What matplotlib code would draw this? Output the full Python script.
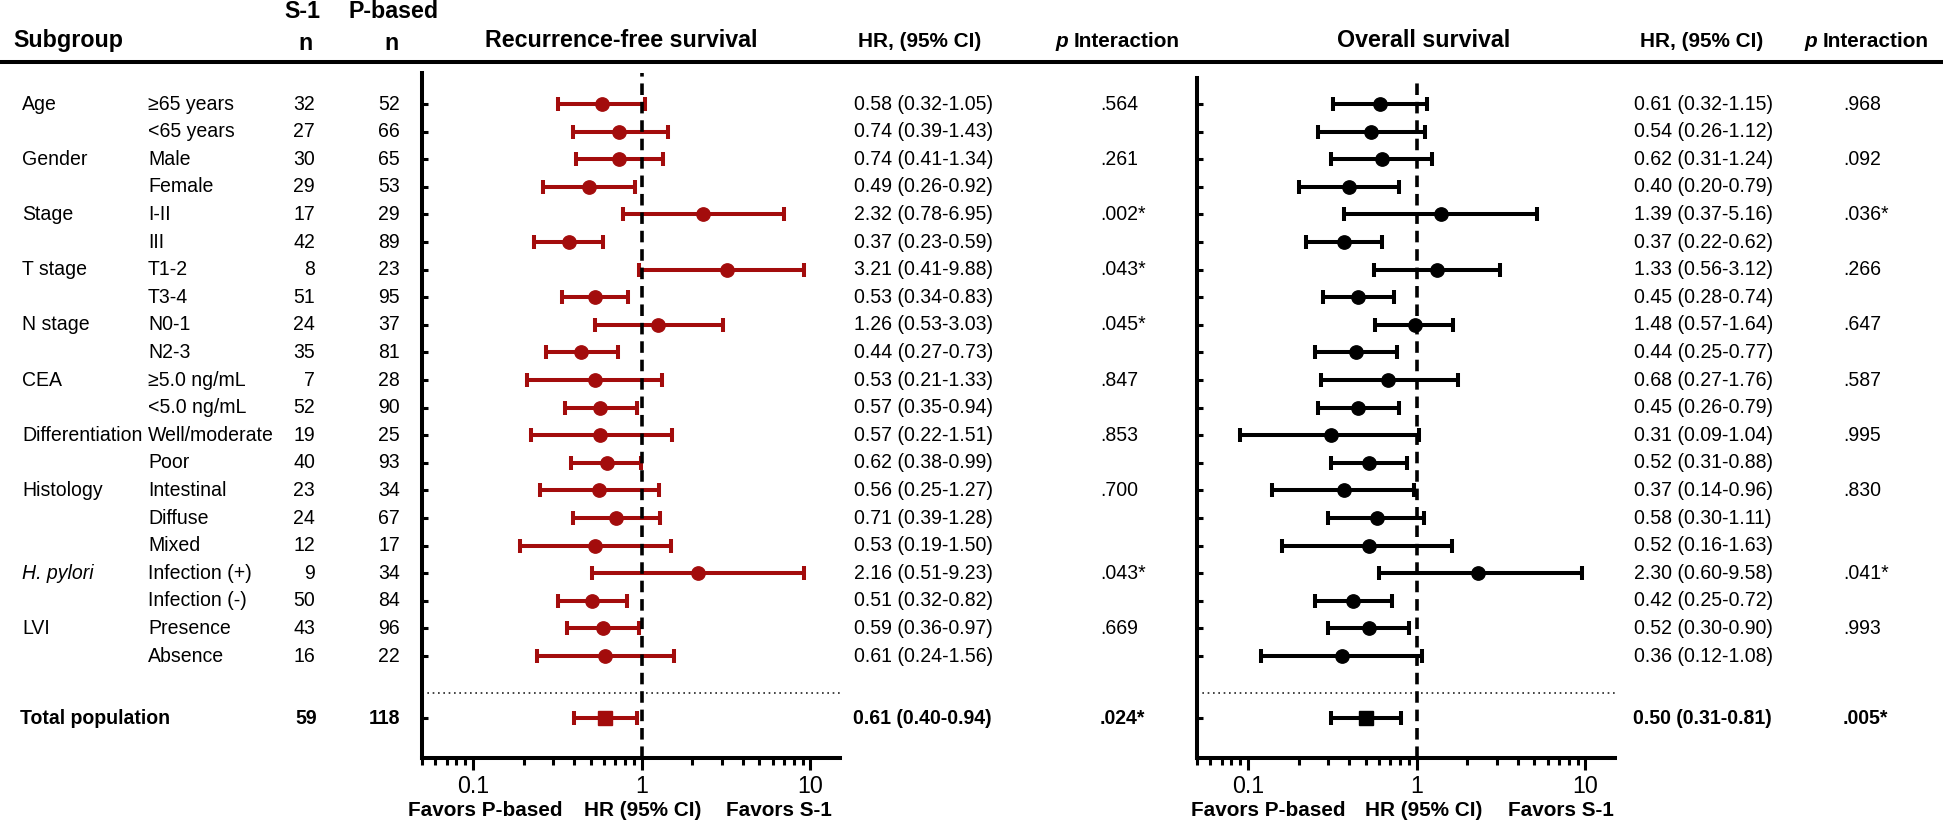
import numpy as np
import matplotlib
matplotlib.use('Agg')
import matplotlib.pyplot as plt
from matplotlib import font_manager
from matplotlib.ticker import LogLocator, NullFormatter

# ---- data ----
groups = ['Age', '', 'Gender', '', 'Stage', '', 'T stage', '', 'N stage', '', 'CEA', '',
          'Differentiation', '', 'Histology', '', '', 'H. pylori', '', 'LVI', '']
subgroups = ['≥65 years', '<65 years', 'Male', 'Female', 'I-II', 'III', 'T1-2', 'T3-4',
             'N0-1', 'N2-3', '≥5.0 ng/mL', '<5.0 ng/mL', 'Well/moderate', 'Poor',
             'Intestinal', 'Diffuse', 'Mixed', 'Infection (+)', 'Infection (-)',
             'Presence', 'Absence']
n_s1 = [32, 27, 30, 29, 17, 42, 8, 51, 24, 35, 7, 52, 19, 40, 23, 24, 12, 9, 50, 43, 16]
n_pb = [52, 66, 65, 53, 29, 89, 23, 95, 37, 81, 28, 90, 25, 93, 34, 67, 17, 34, 84, 96, 22]
total_s1, total_pb = 59, 118

# recurrence-free survival (plotted marks)
rfs_hr = [0.58, 0.74, 0.74, 0.49, 2.32, 0.37, 3.21, 0.53, 1.26, 0.44, 0.53, 0.57, 0.57,
          0.62, 0.56, 0.71, 0.53, 2.16, 0.51, 0.59, 0.61]
rfs_lo = [0.32, 0.39, 0.41, 0.26, 0.78, 0.23, 0.96, 0.34, 0.53, 0.27, 0.21, 0.35, 0.22,
          0.38, 0.25, 0.39, 0.19, 0.51, 0.32, 0.36, 0.24]
rfs_hi = [1.05, 1.43, 1.34, 0.92, 6.95, 0.59, 9.2, 0.83, 3.03, 0.73, 1.33, 0.94, 1.51,
          0.99, 1.27, 1.28, 1.50, 9.23, 0.82, 0.97, 1.56]
rfs_total = [0.61, 0.40, 0.94]
rfs_text = ['0.58 (0.32-1.05)', '0.74 (0.39-1.43)', '0.74 (0.41-1.34)', '0.49 (0.26-0.92)',
            '2.32 (0.78-6.95)', '0.37 (0.23-0.59)', '3.21 (0.41-9.88)', '0.53 (0.34-0.83)',
            '1.26 (0.53-3.03)', '0.44 (0.27-0.73)', '0.53 (0.21-1.33)', '0.57 (0.35-0.94)',
            '0.57 (0.22-1.51)', '0.62 (0.38-0.99)', '0.56 (0.25-1.27)', '0.71 (0.39-1.28)',
            '0.53 (0.19-1.50)', '2.16 (0.51-9.23)', '0.51 (0.32-0.82)', '0.59 (0.36-0.97)',
            '0.61 (0.24-1.56)']
rfs_p = ['.564', '', '.261', '', '.002*', '', '.043*', '', '.045*', '', '.847', '',
         '.853', '', '.700', '', '', '.043*', '', '.669', '']
rfs_total_text, rfs_total_p = '0.61 (0.40-0.94)', '.024*'

# overall survival (plotted marks)
os_hr = [0.61, 0.54, 0.62, 0.40, 1.39, 0.37, 1.33, 0.45, 0.98, 0.44, 0.68, 0.45, 0.31,
         0.52, 0.37, 0.58, 0.52, 2.30, 0.42, 0.52, 0.36]
os_lo = [0.32, 0.26, 0.31, 0.20, 0.37, 0.22, 0.56, 0.28, 0.57, 0.25, 0.27, 0.26, 0.09,
         0.31, 0.14, 0.30, 0.16, 0.60, 0.25, 0.30, 0.12]
os_hi = [1.15, 1.12, 1.24, 0.79, 5.16, 0.62, 3.12, 0.74, 1.64, 0.77, 1.76, 0.79, 1.04,
         0.88, 0.96, 1.11, 1.63, 9.58, 0.72, 0.90, 1.08]
os_total = [0.50, 0.31, 0.81]
os_text = ['0.61 (0.32-1.15)', '0.54 (0.26-1.12)', '0.62 (0.31-1.24)', '0.40 (0.20-0.79)',
           '1.39 (0.37-5.16)', '0.37 (0.22-0.62)', '1.33 (0.56-3.12)', '0.45 (0.28-0.74)',
           '1.48 (0.57-1.64)', '0.44 (0.25-0.77)', '0.68 (0.27-1.76)', '0.45 (0.26-0.79)',
           '0.31 (0.09-1.04)', '0.52 (0.31-0.88)', '0.37 (0.14-0.96)', '0.58 (0.30-1.11)',
           '0.52 (0.16-1.63)', '2.30 (0.60-9.58)', '0.42 (0.25-0.72)', '0.52 (0.30-0.90)',
           '0.36 (0.12-1.08)']
os_p = ['.968', '', '.092', '', '.036*', '', '.266', '', '.647', '', '.587', '',
        '.995', '', '.830', '', '', '.041*', '', '.993', '']
os_total_text, os_total_p = '0.50 (0.31-0.81)', '.005*'

# ---- fonts: a narrow Arial-like face if there is one ----
names = {f.name for f in font_manager.fontManager.ttflist}
if 'Liberation Sans Narrow' in names:
    FONT, K = 'Liberation Sans Narrow', 1.0
else:
    FONT, K = 'Liberation Sans', 0.88
plt.rcParams['font.family'] = [FONT, 'DejaVu Sans']

W, H = 1943, 824
fig = plt.figure(figsize=(W / 100, H / 100), dpi=100)
bg = fig.add_axes([0, 0, 1, 1])
bg.set_xlim(0, W)
bg.set_ylim(H, 0)
bg.axis('off')

ROW0, DROW = 104, 27.6
TOTAL_POS = 22.25
DOT_POS = 21.34
rows = np.arange(len(subgroups))


def row_y(i):
    return ROW0 + DROW * i


body = 16 * K
head = 19 * K
head2 = 17 * K

# header
bg.text(13, 40, 'Subgroup', fontsize=head, fontweight='bold', va='center')
bg.text(302, 11, 'S-1', fontsize=head, fontweight='bold', va='center', ha='center')
bg.text(305, 43, 'n', fontsize=head, fontweight='bold', va='center', ha='center')
bg.text(394, 11, 'P-based', fontsize=head, fontweight='bold', va='center', ha='center')
bg.text(392, 43, 'n', fontsize=head, fontweight='bold', va='center', ha='center')
bg.text(621, 40, 'Recurrence-free survival', fontsize=head, fontweight='bold',
        va='center', ha='center')
bg.text(1424, 40, 'Overall survival', fontsize=head, fontweight='bold',
        va='center', ha='center')
for xc in (920, 1702):
    bg.text(xc, 41, 'HR, (95% CI)', fontsize=head2, fontweight='bold', va='center', ha='center')
for xl in (1055, 1804):
    bg.text(xl, 41, 'p', fontsize=head2, fontweight='bold', fontstyle='italic',
            va='center', ha='left')
    bg.text(xl + 19, 41, 'Interaction', fontsize=head2, fontweight='bold',
            va='center', ha='left')
bg.plot([0, W], [62, 62], color='black', lw=2.9, solid_capstyle='butt')

# table body
for i in rows:
    y = row_y(i)
    if groups[i]:
        bg.text(22, y, groups[i], fontsize=body, va='center',
                fontstyle='italic' if groups[i] == 'H. pylori' else 'normal')
    bg.text(148, y, subgroups[i], fontsize=body, va='center')
    bg.text(315, y, str(n_s1[i]), fontsize=body, va='center', ha='right')
    bg.text(400, y, str(n_pb[i]), fontsize=body, va='center', ha='right')
    bg.text(854, y, rfs_text[i], fontsize=body, va='center')
    bg.text(1100, y, rfs_p[i], fontsize=body, va='center')
    bg.text(1634, y, os_text[i], fontsize=body, va='center')
    bg.text(1843, y, os_p[i], fontsize=body, va='center')

yt = row_y(TOTAL_POS)
bg.text(20, yt, 'Total population', fontsize=body, fontweight='bold', va='center')
bg.text(317, yt, str(total_s1), fontsize=body, fontweight='bold', va='center', ha='right')
bg.text(400, yt, str(total_pb), fontsize=body, fontweight='bold', va='center', ha='right')
bg.text(853, yt, rfs_total_text, fontsize=body, fontweight='bold', va='center')
bg.text(1100, yt, rfs_total_p, fontsize=body, fontweight='bold', va='center')
bg.text(1633, yt, os_total_text, fontsize=body, fontweight='bold', va='center')
bg.text(1843, yt, os_total_p, fontsize=body, fontweight='bold', va='center')


def forest(x0, x1, y0, y1, hr, lo, hi, tot, color):
    ax = fig.add_axes([x0 / W, 1 - y1 / H, (x1 - x0) / W, (y1 - y0) / H])
    hr, lo, hi = np.array(hr), np.array(lo), np.array(hi)
    ax.errorbar(hr, rows, xerr=[hr - lo, hi - hr], fmt='o', color=color, ms=9.6,
                elinewidth=2.9, capsize=4.7, capthick=2.9, zorder=3)
    ax.errorbar([tot[0]], [TOTAL_POS], xerr=[[tot[0] - tot[1]], [tot[2] - tot[0]]],
                fmt='s', color=color, ms=10, elinewidth=2.9, capsize=4.7, capthick=2.9,
                zorder=3)
    ax.axvline(1, color='black', lw=2.6, ls=(0, (3.2, 1.9)), zorder=4)
    ax.axhline(DOT_POS, color='#222222', lw=1.2, ls=(0, (1, 2.2)), zorder=2)
    ax.set_xscale('log')
    ax.set_xlim(0.05, 15)
    ax.set_ylim((y1 - ROW0) / DROW, (y0 - ROW0) / DROW)
    ax.set_xticks([0.1, 1, 10])
    ax.set_xticklabels(['0.1', '1', '10'])
    ax.xaxis.set_minor_locator(LogLocator(base=10, subs=np.arange(2, 10)))
    ax.xaxis.set_minor_formatter(NullFormatter())
    ax.set_yticks(list(rows) + [TOTAL_POS])
    ax.set_yticklabels([])
    ax.tick_params(axis='x', which='major', direction='out', length=8.5, width=2.2,
                   labelsize=19 * K, pad=4)
    ax.tick_params(axis='x', which='minor', direction='out', length=5, width=2.2)
    ax.tick_params(axis='y', which='major', direction='in', length=4.5, width=2.2)
    for s in ('top', 'right'):
        ax.spines[s].set_visible(False)
    for s in ('left', 'bottom'):
        ax.spines[s].set_linewidth(2.9)
    ax.patch.set_alpha(0)
    return ax


forest(422, 840, 73, 758, rfs_hr, rfs_lo, rfs_hi, rfs_total, '#a30c0c')
forest(1197, 1615, 78, 758, os_hr, os_lo, os_hi, os_total, 'black')

for xs in ((485, 643, 779), (1268, 1424, 1561)):
    for xc, lab in zip(xs, ('Favors P-based', 'HR (95% CI)', 'Favors S-1')):
        bg.text(xc, 810, lab, fontsize=17 * K, fontweight='bold', va='center', ha='center')

fig.savefig('out.png', dpi=100)
